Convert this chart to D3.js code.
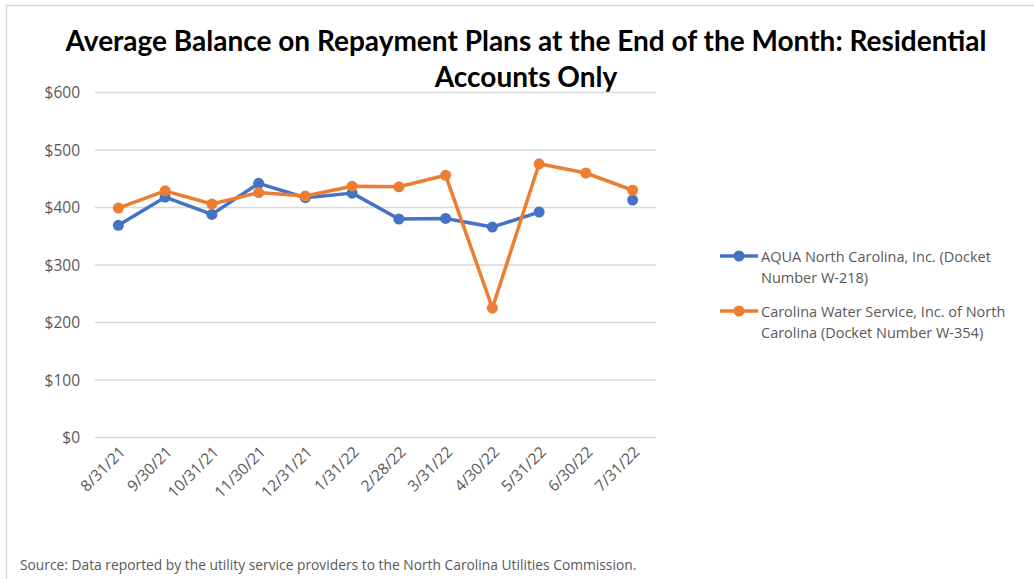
<!DOCTYPE html>
<html lang="en">
<head>
    <meta charset="UTF-8">
    <script src="https://d3js.org/d3.v7.min.js"></script>
    <style>
        body { margin: 0; background: #fff; }
        text { font-family: "Open Sans", "Noto Sans", sans-serif; }
    </style>
</head>
<body>
    <svg id="chart" width="1034" height="579"></svg>
    <script>
        // data
        const months = ["8/31/21", "9/30/21", "10/31/21", "11/30/21", "12/31/21", "1/31/22",
                        "2/28/22", "3/31/22", "4/30/22", "5/31/22", "6/30/22", "7/31/22"];
        const aquaValues = [369, 418, 388, 442, 417, 425, 380, 381, 366, 392, null, 413];
        const cwsValues = [399, 429, 406, 426, 420, 437, 436, 456, 225, 476, 460, 430];
        const yTicks = [0, 100, 200, 300, 400, 500, 600];
        const seriesNames = [
            ["AQUA North Carolina, Inc. (Docket", "Number W-218)"],
            ["Carolina Water Service, Inc. of North", "Carolina (Docket Number W-354)"]
        ];
        const colors = ["#4472C4", "#ED7D31"];

        const svg = d3.select("#chart");
        const margin = { top: 92.5, left: 95, right: 656, bottom: 437.5 };

        // outer chart border
        svg.append("rect")
            .attr("x", 6.5).attr("y", 5.5)
            .attr("width", 1040).attr("height", 600)
            .attr("fill", "none")
            .attr("stroke", "#d9d9d9")
            .attr("stroke-width", 1.5);

        // title
        const title = svg.append("text")
            .attr("text-anchor", "middle")
            .style("font-family", "Lato, sans-serif")
            .style("font-size", "28px")
            .style("font-weight", "bold")
            .attr("fill", "#000");
        title.append("tspan").attr("x", 526).attr("y", 51)
            .text("Average Balance on Repayment Plans at the End of the Month: Residential");
        title.append("tspan").attr("x", 526).attr("y", 87)
            .text("Accounts Only");

        const x = d3.scaleBand()
            .domain(months)
            .range([margin.left, margin.right]);

        const y = d3.scaleLinear()
            .domain([0, 600])
            .range([margin.bottom, margin.top]);

        // gridlines
        svg.append("g")
            .selectAll("line")
            .data(yTicks)
            .enter().append("line")
            .attr("x1", margin.left).attr("x2", margin.right)
            .attr("y1", d => y(d)).attr("y2", d => y(d))
            .attr("stroke", "#d9d9d9")
            .attr("stroke-width", 1.3);

        // y labels
        svg.append("g")
            .selectAll("text")
            .data(yTicks)
            .enter().append("text")
            .attr("x", 80)
            .attr("y", d => y(d) + 5.5)
            .attr("text-anchor", "end")
            .style("font-size", "15.5px")
            .attr("fill", "#595959")
            .text(d => "$" + d);

        // x labels, rotated
        svg.append("g")
            .selectAll("text")
            .data(months)
            .enter().append("text")
            .attr("transform", d => `translate(${x(d) + x.bandwidth() / 2 + 8},${453}) rotate(-45)`)
            .attr("text-anchor", "end")
            .style("font-size", "15.5px")
            .attr("fill", "#595959")
            .text(d => d);

        const line = d3.line()
            .defined(d => d.v != null)
            .x(d => x(d.m) + x.bandwidth() / 2)
            .y(d => y(d.v));

        [aquaValues, cwsValues].forEach((vals, i) => {
            const pts = months.map((m, j) => ({ m: m, v: vals[j] }));
            svg.append("path")
                .datum(pts)
                .attr("d", line)
                .attr("fill", "none")
                .attr("stroke", colors[i])
                .attr("stroke-width", 3.5)
                .attr("stroke-linejoin", "round");
            svg.append("g")
                .selectAll("circle")
                .data(pts.filter(d => d.v != null))
                .enter().append("circle")
                .attr("cx", d => x(d.m) + x.bandwidth() / 2)
                .attr("cy", d => y(d.v))
                .attr("r", 5.5)
                .attr("fill", colors[i]);
        });

        // legend
        const legend = svg.append("g");
        seriesNames.forEach((lines, i) => {
            const ly = 256 + i * 55;
            legend.append("line")
                .attr("x1", 720).attr("x2", 758)
                .attr("y1", ly).attr("y2", ly)
                .attr("stroke", colors[i]).attr("stroke-width", 3.5);
            legend.append("circle")
                .attr("cx", 739).attr("cy", ly).attr("r", 5.5)
                .attr("fill", colors[i]);
            const t = legend.append("text")
                .style("font-size", "14.5px")
                .attr("fill", "#595959");
            lines.forEach((s, k) => {
                t.append("tspan").attr("x", 761).attr("y", ly + 6 + k * 21).text(s);
            });
        });

        // source note
        svg.append("text")
            .attr("x", 20).attr("y", 570)
            .style("font-size", "13.8px")
            .attr("fill", "#595959")
            .text("Source: Data reported by the utility service providers to the North Carolina Utilities Commission.");
    </script>
</body>
</html>
